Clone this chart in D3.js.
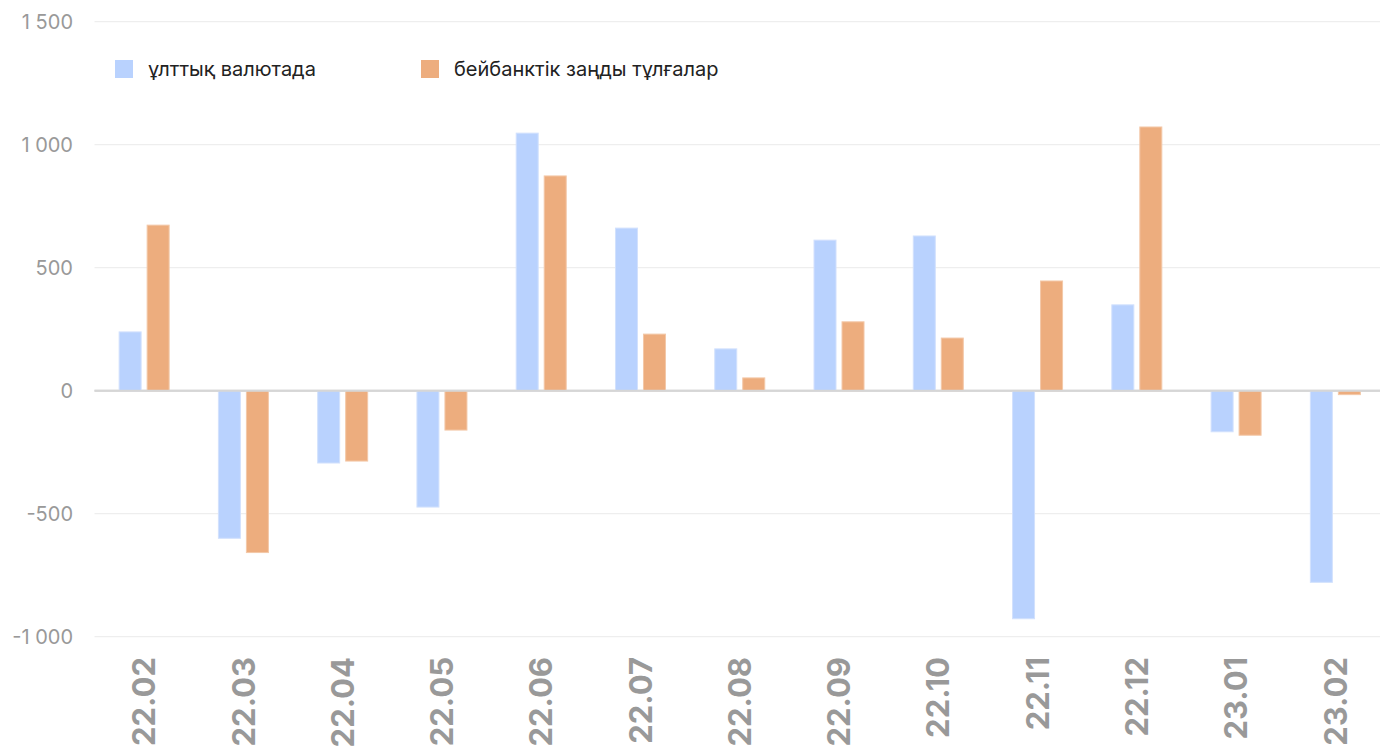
<!DOCTYPE html>
<html>
<head>
<meta charset="utf-8">
<script src="https://cdn.jsdelivr.net/npm/d3@7"></script>
<style>
  body { margin: 0; background: #fff; }
  text { font-family: Inter, "Noto Sans", sans-serif; }
</style>
</head>
<body>
<div id="chart"></div>
<script>
// Data
var categories = ["22.02", "22.03", "22.04", "22.05", "22.06", "22.07", "22.08",
                  "22.09", "22.10", "22.11", "22.12", "23.01", "23.02"];
var nationalCurrency = [239, -600, -294, -473, 1047, 661, 170, 612, 629, -927, 349, -167, -779];
var nonBankLegal = [673, -658, -286, -160, 873, 230, 52, 280, 214, 446, 1072, -181, -16];
var yTicks = [-1000, -500, 0, 500, 1000, 1500];
var seriesNames = ["ұлттық валютада", "бейбанктік заңды тұлғалар"];
var colors = ["#b9d2fe", "#edad7e"];

var svgWidth = 1380;
var svgHeight = 749;

var svg = d3.select("#chart")
  .append("svg")
  .attr("width", svgWidth)
  .attr("height", svgHeight);

// Scales
var x = d3.scaleBand()
  .domain(categories)
  .range([94.5, 1385])
  .padding(0);

var y = d3.scaleLinear()
  .domain([-1000, 1500])
  .range([636.7, 21.7]);

// Gridlines
svg.append("g")
  .selectAll("line")
  .data(yTicks)
  .enter()
  .append("line")
  .attr("x1", 94.5)
  .attr("x2", 1380)
  .attr("y1", d => y(d))
  .attr("y2", d => y(d))
  .attr("stroke", d => d === 0 ? "#d6d6d6" : "#ebebeb")
  .attr("stroke-width", d => d === 0 ? 2 : 1);

// Y axis labels
var fmt = d => (d < 0 ? "-" : "") + d3.format(",")(Math.abs(d)).replace(/,/g, " ");
svg.append("g")
  .selectAll("text")
  .data(yTicks)
  .enter()
  .append("text")
  .attr("x", 73)
  .attr("y", d => y(d))
  .attr("dy", "0.35em")
  .attr("text-anchor", "end")
  .attr("fill", "#999")
  .style("font-size", "20px")
  .style("white-space", "pre")
  .text(fmt);

// Bars
var series = [nationalCurrency, nonBankLegal];
var offsets = [-25, 3];
var barW = 22;

series.forEach(function(vals, i) {
  svg.append("g")
    .selectAll("rect")
    .data(categories)
    .enter()
    .append("rect")
    .attr("x", (d) => x(d) + x.bandwidth() / 2 + offsets[i])
    .attr("width", barW)
    .attr("y", (d, j) => Math.min(y(vals[j]), y(0)))
    .attr("height", (d, j) => Math.abs(y(vals[j]) - y(0)))
    .attr("fill", colors[i])
    .attr("stroke", i === 0 ? "#d2e1fd" : "#f3c8a8")
    .attr("stroke-width", 1);
});

// Redraw zero line over bars
svg.append("line")
  .attr("x1", 94.5)
  .attr("x2", 1380)
  .attr("y1", y(0))
  .attr("y2", y(0))
  .attr("stroke", "#d6d6d6")
  .attr("stroke-width", 2);

// X labels
svg.append("g")
  .selectAll("text")
  .data(categories)
  .enter()
  .append("text")
  .attr("transform", d => `translate(${x(d) + x.bandwidth() / 2}, 657) rotate(-90)`)
  .attr("dy", "0.36em")
  .attr("text-anchor", "end")
  .attr("fill", "#999")
  .style("font-size", "31px")
  .style("font-weight", "bold")
  .text(d => d);

// Legend
var legendX = [115, 421];
var legend = svg.append("g");
seriesNames.forEach(function(name, i) {
  legend.append("rect")
    .attr("x", legendX[i])
    .attr("y", 60)
    .attr("width", 18)
    .attr("height", 18)
    .attr("fill", colors[i]);
  legend.append("text")
    .attr("x", legendX[i] + 33)
    .attr("y", 69)
    .attr("dy", "0.35em")
    .attr("fill", "#222")
    .style("font-size", "20px")
    .text(name);
});
</script>
</body>
</html>
